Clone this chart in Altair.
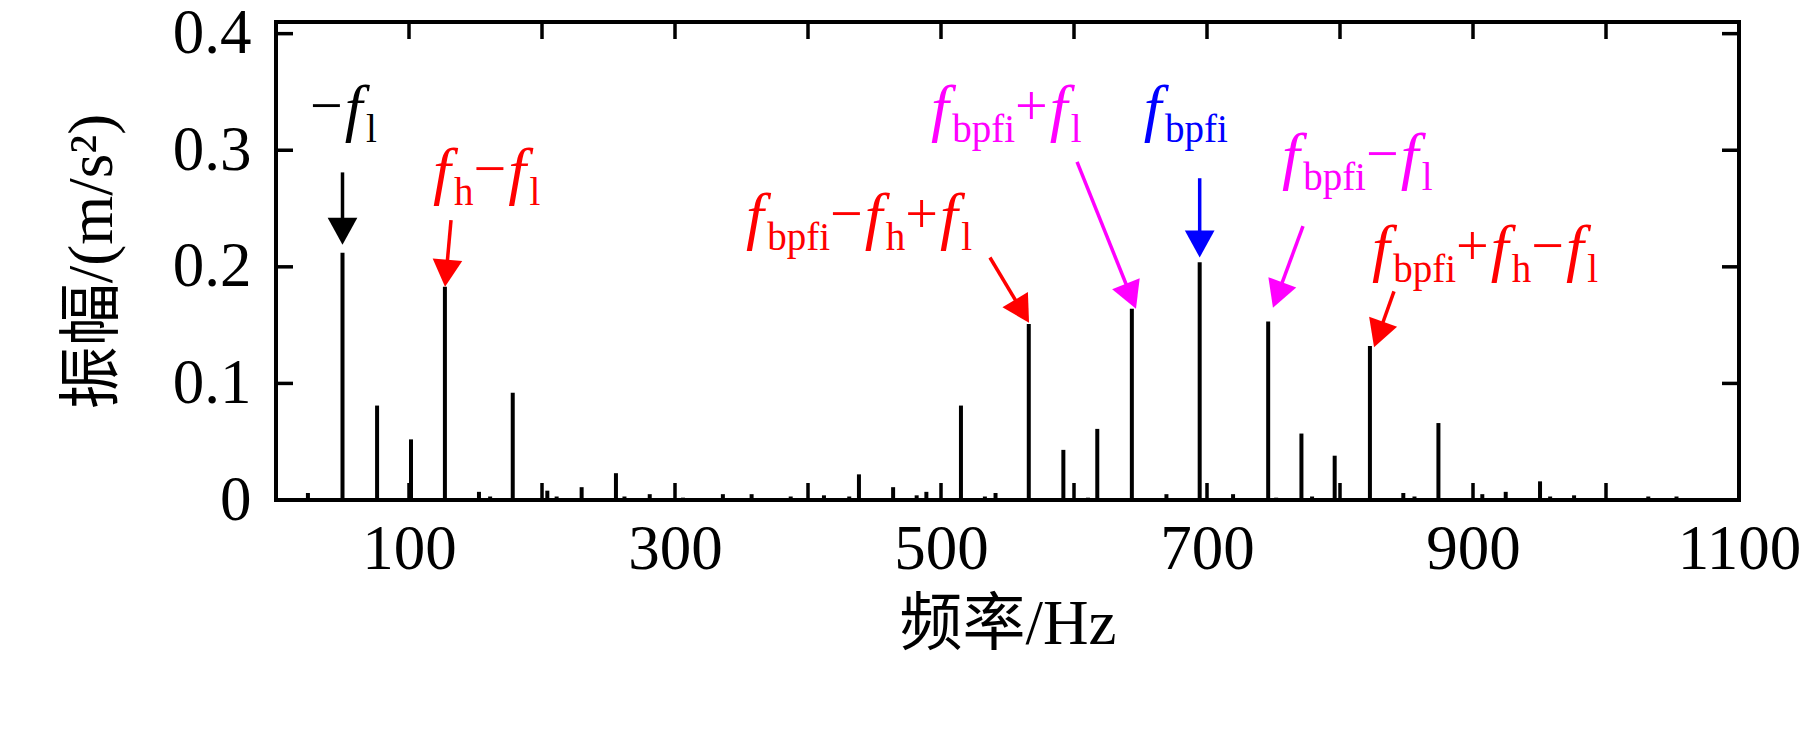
import math
import pandas as pd
import altair as alt

W = 1463
H = 478
X_MAX = 1100
Y_MAX = 0.41
PX_PER_HZ = W / X_MAX
PX_PER_AMP = H / Y_MAX
SERIF = "Liberation Serif"
CJK = "Liberation Serif, Noto Sans CJK SC"

# spectrum lines (Hz, m/s^2)
peak_freq = [24, 50, 76, 101.5, 127, 152.6, 161, 178, 204, 211, 229.8, 255.6, 262, 281,
             306, 336, 357.6, 387, 412, 431, 438.3, 464, 481.7, 489, 515, 533, 541, 566,
             592, 610.5, 617.5, 643.5, 669.5, 694.5, 719.6, 746, 752, 771, 779, 796,
             822.5, 847.6, 856, 874, 907, 924.6, 950.4, 958, 976, 1031.8, 1053]
peak_amp = [0.006, 0.212, 0.081, 0.052, 0.183, 0.007, 0.003, 0.092, 0.008, 0.003, 0.011,
            0.023, 0.003, 0.005, 0.002, 0.005, 0.005, 0.003, 0.004, 0.003, 0.022, 0.011,
            0.004, 0.007, 0.081, 0.003, 0.006, 0.151, 0.043, 0.002, 0.061, 0.164, 0.005,
            0.204, 0.005, 0.153, 0.002, 0.057, 0.003, 0.038, 0.132, 0.006, 0.003, 0.066,
            0.005, 0.007, 0.016, 0.003, 0.004, 0.003, 0.003]

x_tick_vals = [100, 200, 300, 400, 500, 600, 700, 800, 900, 1000]
x_label_vals = [100, 300, 500, 700, 900, 1100]
y_tick_vals = [0.1, 0.2, 0.3, 0.4]
y_label_vals = [0, 0.1, 0.2, 0.3, 0.4]

# annotations: colour, anchor (Hz, amp of main baseline), tokens
ann_color = ["black", "#ff0000", "#ff0000", "#ff00ff", "#0000ff", "#ff00ff", "#ff0000"]
ann_x = [25.6, 118.0, 353.4, 492.5, 652.5, 756.4, 824.1]
ann_y = [0.318, 0.264, 0.2256, 0.318, 0.318, 0.277, 0.198]
ann_tokens = [
    [("op", "−"), ("f", "f"), ("sub", "l")],
    [("f", "f"), ("sub", "h"), ("op", "−"), ("f", "f"), ("sub", "l")],
    [("f", "f"), ("sub", "bpfi"), ("op", "−"), ("f", "f"), ("sub", "h"), ("op", "+"), ("f", "f"), ("sub", "l")],
    [("f", "f"), ("sub", "bpfi"), ("op", "+"), ("f", "f"), ("sub", "l")],
    [("f", "f"), ("sub", "bpfi")],
    [("f", "f"), ("sub", "bpfi"), ("op", "−"), ("f", "f"), ("sub", "l")],
    [("f", "f"), ("sub", "bpfi"), ("op", "+"), ("f", "f"), ("sub", "h"), ("op", "−"), ("f", "f"), ("sub", "l")],
]

# arrows: start -> tip
arr_color = ["black", "#ff0000", "#ff0000", "#ff00ff", "#0000ff", "#ff00ff", "#ff0000"]
arr_x1 = [50, 131.6, 536.8, 602.3, 694.5, 772.2, 840.6]
arr_y1 = [0.281, 0.240, 0.208, 0.290, 0.276, 0.235, 0.179]
arr_x2 = [50, 127.1, 566.2, 646.6, 694.5, 749.6, 825.6]
arr_y2 = [0.219, 0.183, 0.152, 0.164, 0.208, 0.165, 0.131]

SIZE = {"f": 64, "sub": 39, "op": 58}
DY = {"f": 0, "sub": 13, "op": -4}
CHAR_W = {"b": 0.5, "p": 0.5, "f": 0.333, "i": 0.278, "h": 0.5, "l": 0.278,
          "−": 0.564, "+": 0.564}
HEAD = 27

spec = pd.DataFrame({"freq": peak_freq, "amp": peak_amp, "zero": 0.0})

tl = 17
ticks = pd.DataFrame(
    [{"x": v, "x2": v, "y": 0, "y2": tl / PX_PER_AMP} for v in x_tick_vals]
    + [{"x": v, "x2": v, "y": Y_MAX, "y2": Y_MAX - tl / PX_PER_AMP} for v in x_tick_vals]
    + [{"x": 0, "x2": tl / PX_PER_HZ, "y": v, "y2": v} for v in y_tick_vals]
    + [{"x": X_MAX, "x2": X_MAX - tl / PX_PER_HZ, "y": v, "y2": v} for v in y_tick_vals]
)

rows = []
for col, ax, ay, toks in zip(ann_color, ann_x, ann_y, ann_tokens):
    off = 0.0
    for kind, txt in toks:
        rows.append({"kind": kind, "text": txt, "color": col,
                     "x": ax + off / PX_PER_HZ,
                     "y": ay - DY[kind] / PX_PER_AMP})
        if kind == "f":
            off += 0.33 * SIZE["f"]
        else:
            off += sum(CHAR_W[c] for c in txt) * SIZE[kind]
        if kind == "op":
            off += 2
tokens = pd.DataFrame(rows)

arows = []
for col, x1, y1, x2, y2 in zip(arr_color, arr_x1, arr_y1, arr_x2, arr_y2):
    dxp = (x2 - x1) * PX_PER_HZ
    dyp = -(y2 - y1) * PX_PER_AMP
    ln = math.hypot(dxp, dyp)
    ux, uy = dxp / ln, dyp / ln
    ang = math.degrees(math.atan2(-ux, uy)) % 360
    back = HEAD * 0.6
    arows.append({"color": col, "x": x1, "y": y1,
                  "xe": x2 - ux * back / PX_PER_HZ, "ye": y2 + uy * back / PX_PER_AMP,
                  "xt": x2, "yt": y2, "angle": ang})
arrows = pd.DataFrame(arows)

xs = alt.Scale(domain=[0, X_MAX], nice=False, zero=False)
ys = alt.Scale(domain=[0, Y_MAX], nice=False)

x_axis = alt.Axis(values=x_label_vals, title="频率/Hz", ticks=False, domain=False, grid=False,
                  format="d", labelPadding=18, titlePadding=12, labelFlush=False)
y_axis = alt.Axis(values=y_label_vals, title="振幅/(m/s²)", ticks=False, domain=False, grid=False,
                  labelPadding=25, titlePadding=48,
                  labelExpr="datum.value == 0 ? '0' : format(datum.value, '.1f')")

lines = alt.Chart(spec).mark_rule(color="black", strokeWidth=4).encode(
    x=alt.X("freq:Q", scale=xs, axis=x_axis),
    y=alt.Y("amp:Q", scale=ys, axis=y_axis),
    y2="zero:Q",
)

tick_marks = alt.Chart(ticks).mark_rule(color="black", strokeWidth=3.5).encode(
    x=alt.X("x:Q", scale=xs), x2="x2:Q", y=alt.Y("y:Q", scale=ys), y2="y2:Q"
)

arrow_lines = alt.Chart(arrows).mark_rule(strokeWidth=3.5).encode(
    x=alt.X("x:Q", scale=xs), x2="xe:Q", y=alt.Y("y:Q", scale=ys), y2="ye:Q",
    color=alt.Color("color:N", scale=None),
)

arrow_heads = alt.Chart(arrows).mark_point(
    shape="M0,0 L-0.55,-1 L0.55,-1 Z", filled=True, opacity=1, size=(2 * HEAD) ** 2,
    strokeWidth=0,
).encode(
    x=alt.X("xt:Q", scale=xs), y=alt.Y("yt:Q", scale=ys),
    angle=alt.Angle("angle:Q", scale=None),
    color=alt.Color("color:N", scale=None),
)


def text_layer(kind, italic):
    kw = dict(align="left", baseline="alphabetic", font=SERIF, fontSize=SIZE[kind])
    if italic:
        kw["fontStyle"] = "italic"
    return alt.Chart(tokens[tokens["kind"] == kind]).mark_text(**kw).encode(
        x=alt.X("x:Q", scale=xs), y=alt.Y("y:Q", scale=ys),
        text="text:N", color=alt.Color("color:N", scale=None),
    )


chart = alt.layer(
    lines, tick_marks, arrow_lines, arrow_heads,
    text_layer("f", True), text_layer("sub", False), text_layer("op", False),
).properties(
    width=W, height=H,
    autosize=alt.AutoSizeParams(type="none"),
    padding={"left": 268, "top": 14, "right": 72, "bottom": 233},
    background="white",
).configure_view(
    stroke="black", strokeWidth=4
).configure_axis(
    labelFont=SERIF, labelFontSize=63, labelColor="black",
    titleFont=CJK, titleFontSize=63, titleColor="black", titleFontWeight="normal",
)

chart.save("out.html", embed_options={"renderer": "svg", "actions": False})
